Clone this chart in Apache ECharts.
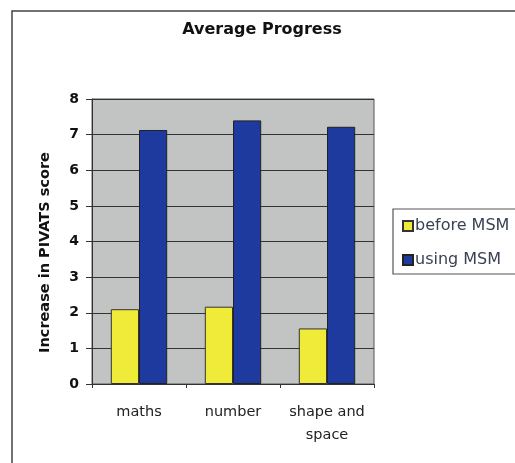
<!DOCTYPE html>
<html>
<head>
<meta charset="utf-8">
<script src="https://cdn.jsdelivr.net/npm/echarts@6/dist/echarts.min.js"></script>
<style>html,body{margin:0;padding:0;background:#fff;}#c{width:515px;height:463px;}</style>
</head>
<body>
<div id="c"></div>
<script>
var categories = ['maths', 'number', 'shape and\nspace'];
var beforeMSM = [2.1, 2.17, 1.56];
var usingMSM = [7.13, 7.4, 7.22];
var seriesNames = ['before MSM', 'using MSM'];

var chart = echarts.init(document.getElementById('c'));
var font = '"DejaVu Sans", Arial, sans-serif';
chart.setOption({
  backgroundColor: '#fff',
  animation: false,
  title: {
    text: 'Average Progress',
    left: 257, top: 17, textAlign: 'center',
    textStyle: {fontFamily: font, fontSize: 16, fontWeight: 'bold', color: '#111'}
  },
  graphic: [
    {type: 'rect', shape: {x: 12, y: 11, width: 540, height: 500}, style: {fill: 'none', stroke: '#444', lineWidth: 1.5}, silent: true},
    {type: 'rect', shape: {x: 393, y: 209, width: 140, height: 65}, style: {fill: '#fff', stroke: '#555', lineWidth: 1.2}, silent: true, z: 0}
  ],
  legend: {
    orient: 'vertical', left: 397, top: 213,
    itemWidth: 10, itemHeight: 10, itemGap: 18,
    icon: 'rect',
    data: seriesNames,
    textStyle: {fontFamily: font, fontSize: 16, color: '#3a4254', padding: [0, 0, 0, -3]},
    z: 5
  },
  grid: {left: 92, top: 99, width: 282, height: 285, show: true, backgroundColor: '#c2c3c3', borderColor: '#555', borderWidth: 1},
  xAxis: {
    type: 'category', data: categories,
    axisLine: {lineStyle: {color: '#333'}},
    axisTick: {show: true, length: 4, lineStyle: {color: '#333'}},
    axisLabel: {interval: 0, fontFamily: font, fontSize: 14.5, color: '#222', margin: 17, lineHeight: 23}
  },
  yAxis: {
    type: 'value', min: 0, max: 8, interval: 1,
    name: 'Increase in PIVATS score', nameLocation: 'middle', nameGap: 39,
    nameTextStyle: {fontFamily: font, fontSize: 14.5, fontWeight: 'bold', color: '#111', padding: [0, 22, 0, 0]},
    axisLine: {show: true, lineStyle: {color: '#333'}},
    axisTick: {show: true, length: 6, lineStyle: {color: '#333'}},
    axisLabel: {fontFamily: font, fontSize: 14, fontWeight: 'bold', color: '#111', margin: 13},
    splitLine: {lineStyle: {color: '#333', width: 1}}
  },
  series: [
    {name: seriesNames[0], type: 'bar', data: beforeMSM, barGap: '0%', barCategoryGap: '40%',
     itemStyle: {color: '#f0ea38', borderColor: '#333', borderWidth: 1}},
    {name: seriesNames[1], type: 'bar', data: usingMSM,
     itemStyle: {color: '#1f3a9e', borderColor: '#222', borderWidth: 1}}
  ]
});
</script>
</body>
</html>
